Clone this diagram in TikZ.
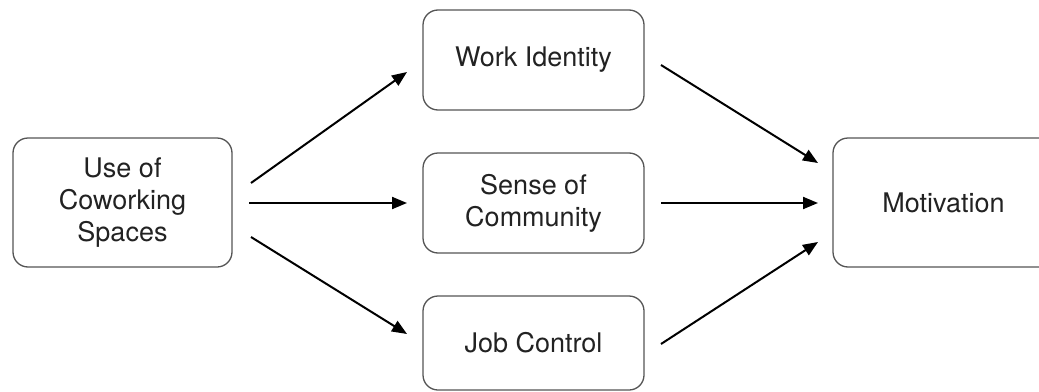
\documentclass[tikz,border=0pt]{standalone}
\usepackage{fontspec}
\setmainfont{TeX Gyre Heros}
\usetikzlibrary{arrows.meta}
\definecolor{boxline}{HTML}{555555}
\definecolor{txt}{HTML}{222222}
\begin{document}
\begin{tikzpicture}[x=1pt,y=-1pt,
  box/.style={draw=boxline, line width=1.3pt, rounded corners=15pt, align=center,
    text=txt, font=\fontsize{27}{32}\selectfont, inner sep=0pt},
  conn/.style={line width=2pt, -{Triangle[length=15pt,width=12pt]}}]
\useasboundingbox (0,0) rectangle (1039,391);
\clip (0,0) rectangle (1039,391);
\fill[white] (0,0) rectangle (1039,391);
\node[box, minimum width=219pt, minimum height=129pt] (use) at (122.5,202.5) {Use of\\Coworking\\Spaces};
\node[box, minimum width=221pt, minimum height=100pt] (wi) at (533.5,60) {Work Identity};
\node[box, minimum width=221pt, minimum height=100pt] (sc) at (533.5,203) {Sense of\\Community};
\node[box, minimum width=221pt, minimum height=94pt] (jc) at (533.5,343) {Job Control};
\node[box, minimum width=221pt, minimum height=129pt] (mot) at (943.5,202.5) {Motivation};
\coordinate (a1s) at (251,183); \coordinate (a1e) at (407,72);
\coordinate (a2s) at (249,203); \coordinate (a2e) at (407,203);
\coordinate (a3s) at (251,237); \coordinate (a3e) at (407,334);
\coordinate (b1s) at (661,65);  \coordinate (b1e) at (818,163);
\coordinate (b2s) at (661,203); \coordinate (b2e) at (818,203);
\coordinate (b3s) at (661,344); \coordinate (b3e) at (818,242);
\draw[conn] (a1s) -- (a1e);
\draw[conn] (a2s) -- (a2e);
\draw[conn] (a3s) -- (a3e);
\draw[conn] (b1s) -- (b1e);
\draw[conn] (b2s) -- (b2e);
\draw[conn] (b3s) -- (b3e);
\end{tikzpicture}
\end{document}
